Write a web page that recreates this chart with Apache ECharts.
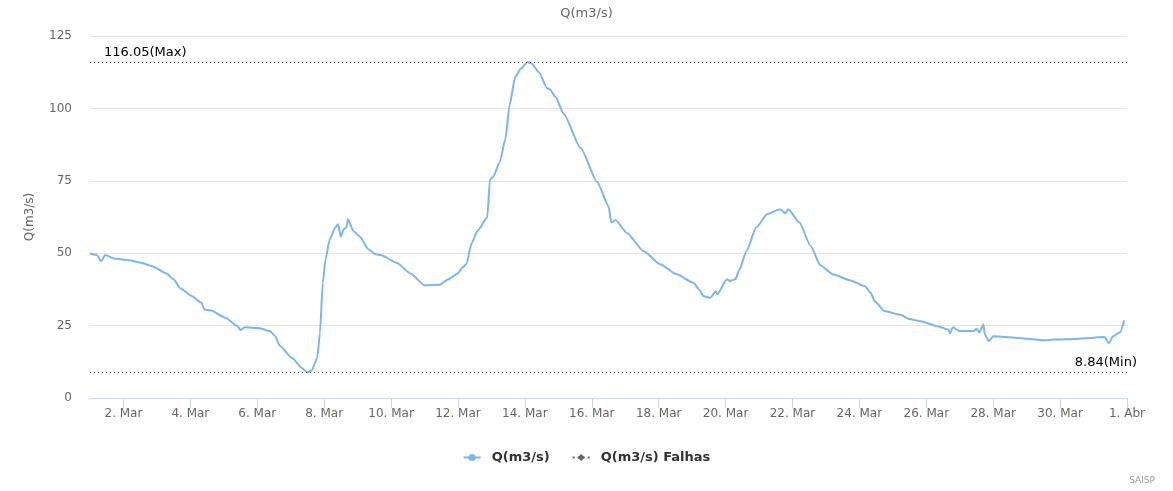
<!DOCTYPE html>
<html>
<head>
<meta charset="utf-8">
<title>Q(m3/s)</title>
<script src="https://cdn.jsdelivr.net/npm/echarts@6/dist/echarts.min.js"></script>
<style>
  html, body { margin: 0; padding: 0; background: #fff; }
  #chart { width: 1173px; height: 491px; }
</style>
</head>
<body>
<div id="chart"></div>
<script>
// leituras da vazão (m3/s), hora local
const times = [
  '2016-03-01 00:00', '2016-03-01 05:00', '2016-03-01 08:00', '2016-03-01 11:00', '2016-03-01 17:00',
  '2016-03-02 04:00', '2016-03-02 13:00', '2016-03-02 20:00', '2016-03-03 07:00', '2016-03-03 12:00',
  '2016-03-03 17:00', '2016-03-04 01:00', '2016-03-04 08:00', '2016-03-04 10:00', '2016-03-04 15:00',
  '2016-03-05 01:00', '2016-03-05 10:00', '2016-03-05 12:00', '2016-03-05 15:00', '2016-03-06 01:00',
  '2016-03-06 09:00', '2016-03-06 13:00', '2016-03-06 16:00', '2016-03-07 01:00', '2016-03-07 08:00',
  '2016-03-07 12:00', '2016-03-07 15:00', '2016-03-07 19:00', '2016-03-07 21:00', '2016-03-07 23:00',
  '2016-03-08 01:00', '2016-03-08 04:00', '2016-03-08 08:00', '2016-03-08 10:00', '2016-03-08 12:00',
  '2016-03-08 14:00', '2016-03-08 16:00', '2016-03-08 17:00', '2016-03-08 21:00', '2016-03-09 01:00',
  '2016-03-09 08:00', '2016-03-09 13:00', '2016-03-09 17:00', '2016-03-10 04:00', '2016-03-10 14:00',
  '2016-03-11 00:00', '2016-03-11 11:00', '2016-03-11 17:00', '2016-03-12 00:00', '2016-03-12 03:00',
  '2016-03-12 06:00', '2016-03-12 10:00', '2016-03-12 14:00', '2016-03-12 21:00', '2016-03-12 23:00',
  '2016-03-13 01:00', '2016-03-13 06:00', '2016-03-13 10:00', '2016-03-13 13:00', '2016-03-13 17:00',
  '2016-03-13 21:00', '2016-03-14 02:00', '2016-03-14 05:00', '2016-03-14 10:00', '2016-03-14 16:00',
  '2016-03-14 18:00', '2016-03-14 22:00', '2016-03-15 04:00', '2016-03-15 16:00', '2016-03-16 04:00',
  '2016-03-16 12:00', '2016-03-16 14:00', '2016-03-16 17:00', '2016-03-17 01:00', '2016-03-17 13:00',
  '2016-03-18 01:00', '2016-03-18 13:00', '2016-03-19 01:00', '2016-03-19 05:00', '2016-03-19 08:00',
  '2016-03-19 13:00', '2016-03-19 17:00', '2016-03-19 18:00', '2016-03-20 01:00', '2016-03-20 03:00',
  '2016-03-20 07:00', '2016-03-20 10:00', '2016-03-20 15:00', '2016-03-20 22:00', '2016-03-21 06:00',
  '2016-03-21 15:00', '2016-03-21 19:00', '2016-03-21 21:00', '2016-03-22 05:00', '2016-03-22 13:00',
  '2016-03-22 20:00', '2016-03-23 05:00', '2016-03-23 17:00', '2016-03-24 04:00', '2016-03-24 08:00',
  '2016-03-24 11:00', '2016-03-24 18:00', '2016-03-25 05:00', '2016-03-25 12:00', '2016-03-25 20:00',
  '2016-03-26 08:00', '2016-03-26 16:00', '2016-03-26 17:00', '2016-03-26 19:00', '2016-03-27 00:00',
  '2016-03-27 10:00', '2016-03-27 12:00', '2016-03-27 14:00', '2016-03-27 17:00', '2016-03-27 18:00',
  '2016-03-27 21:00', '2016-03-28 00:00', '2016-03-28 12:00', '2016-03-29 00:00', '2016-03-29 14:00',
  '2016-03-29 19:00', '2016-03-30 12:00', '2016-03-31 00:00', '2016-03-31 08:00', '2016-03-31 11:00',
  '2016-03-31 14:00', '2016-03-31 19:00', '2016-03-31 22:00'
]
const flow = [
  49.9, 49.4, 47.2, 49.4, 48.2,
  47.6, 46.7, 45.6, 43.0, 41.0,
  37.8, 35.2, 32.9, 30.6, 30.2,
  27.7, 24.8, 23.4, 24.4, 24.2,
  23.1, 21.3, 18.1, 13.8, 10.4,
  8.84, 9.5, 13.8, 22.5, 39.8,
  47.9, 54.8, 58.9, 60.0, 55.7,
  58.3, 58.9, 61.7, 57.7, 56.0,
  51.3, 49.6, 49.3, 46.7, 43.0,
  38.9, 39.1, 41.0, 43.0, 45.0,
  46.2, 53.7, 57.7, 62.3, 75.6,
  76.2, 81.4, 89.4, 101.0, 110.8,
  113.7, 116.05, 115.4, 112.5, 107.0,
  106.5, 103.9, 98.0, 86.3, 74.5,
  66.3, 60.6, 61.5, 57.1, 50.8,
  46.2, 42.7, 39.8, 37.5, 35.2,
  34.6, 36.9, 35.8, 41.0, 40.4,
  41.0, 44.4, 50.8, 58.9, 63.5,
  65.2, 63.8, 65.2, 60.6, 52.5,
  45.8, 42.7, 40.7, 38.6, 36.4,
  33.4, 30.0, 28.8, 27.3, 26.5,
  24.8, 23.6, 22.3, 24.4, 23.1,
  23.1, 23.9, 22.7, 25.4, 21.9,
  19.6, 21.3, 21.0, 20.5, 19.9,
  20.2, 20.4, 20.8, 21.1, 19.0,
  21.3, 22.7, 26.8
]
// série de falhas: sem leituras no período
const failTimes = []
const failFlow = []

const tickDates = [
  '2016-03-02 00:00', '2016-03-04 00:00', '2016-03-06 00:00', '2016-03-08 00:00',
  '2016-03-10 00:00', '2016-03-12 00:00', '2016-03-14 00:00', '2016-03-16 00:00',
  '2016-03-18 00:00', '2016-03-20 00:00', '2016-03-22 00:00', '2016-03-24 00:00',
  '2016-03-26 00:00', '2016-03-28 00:00', '2016-03-30 00:00', '2016-04-01 00:00'
]
const yTicks = [0, 25, 50, 75, 100, 125]
const monthNames = ['Jan', 'Fev', 'Mar', 'Abr', 'Mai', 'Jun', 'Jul', 'Ago', 'Set', 'Out', 'Nov', 'Dez']

function toTime(s) {
  const [d, h] = s.split(' ')
  const [yy, mm, dd] = d.split('-').map(Number)
  const [hh, mi] = h.split(':').map(Number)
  return new Date(yy, mm - 1, dd, hh, mi).getTime()
}

const maxQ = Math.max(...flow)
const minQ = Math.min(...flow)
const tickValues = tickDates.map(toTime)
const font = 'DejaVu Sans, Verdana, sans-serif'

const chart = echarts.init(document.getElementById('chart'), null, { renderer: 'canvas' })
chart.setOption({
  animation: false,
  textStyle: { fontFamily: font },
  title: {
    text: 'Q(m3/s)',
    left: 'center',
    top: 2,
    textStyle: { fontSize: 13, fontWeight: 'normal', color: '#666', fontFamily: font }
  },
  graphic: [{
    type: 'text',
    right: 18,
    bottom: 6,
    style: { text: 'SAISP', fontSize: 9, fill: '#999', fontFamily: font }
  }],
  legend: {
    bottom: 22,
    left: 'center',
    itemGap: 22,
    itemWidth: 17,
    itemHeight: 9,
    textStyle: { fontSize: 13, fontWeight: 'bold', color: '#333', fontFamily: font, padding: [0, 0, 0, 6] },
    data: ['Q(m3/s)', 'Q(m3/s) Falhas']
  },
  grid: { left: 90, right: 46, top: 36, bottom: 93 },
  xAxis: {
    // timestamps em eixo numérico, com ticks nos dias pares
    type: 'value',
    min: toTime(times[0]),
    max: toTime('2016-04-01 00:00'),
    axisLine: { lineStyle: { color: '#ccd6eb' } },
    axisTick: { show: true, length: 10, customValues: tickValues, lineStyle: { color: '#ccd6eb' } },
    splitLine: { show: false },
    axisLabel: {
      customValues: tickValues,
      color: '#666',
      fontSize: 12,
      margin: 10,
      hideOverlap: false,
      formatter: function (v) {
        const d = new Date(v)
        return d.getDate() + '. ' + monthNames[d.getMonth()]
      }
    }
  },
  yAxis: {
    type: 'value',
    min: yTicks[0],
    max: yTicks[yTicks.length - 1],
    interval: 25,
    name: 'Q(m3/s)',
    nameLocation: 'middle',
    nameGap: 54,
    nameTextStyle: { color: '#666', fontSize: 12 },
    axisLine: { show: false },
    axisTick: { show: false },
    axisLabel: { color: '#666', fontSize: 12, margin: 18 },
    splitLine: { lineStyle: { color: '#e6e6e6' } }
  },
  series: [
    {
      name: 'Q(m3/s)',
      type: 'line',
      data: times.map((t, i) => [toTime(t), flow[i]]),
      smooth: 0.2,
      smoothMonotone: 'x',
      showSymbol: false,
      symbol: 'circle',
      symbolSize: 8,
      color: '#7cb5ec',
      lineStyle: { width: 2, color: '#7cb5ec' },
      markLine: {
        silent: true,
        symbol: 'none',
        lineStyle: { type: [1, 3], color: '#555', width: 1 },
        data: [
          {
            yAxis: maxQ,
            label: { formatter: maxQ.toFixed(2) + '(Max)', position: 'insideStartTop', distance: [14, 3], color: '#000', fontSize: 13 }
          },
          {
            yAxis: minQ,
            label: { formatter: minQ.toFixed(2) + '(Min)', position: 'insideEndTop', distance: [-10, 3], color: '#000', fontSize: 13 }
          }
        ]
      }
    },
    {
      name: 'Q(m3/s) Falhas',
      type: 'line',
      data: failTimes.map((t, i) => [toTime(t), failFlow[i]]),
      symbol: 'diamond',
      symbolSize: 9,
      color: '#666',
      lineStyle: { width: 1, type: [2, 3], color: '#666' }
    }
  ]
})
</script>
</body>
</html>
